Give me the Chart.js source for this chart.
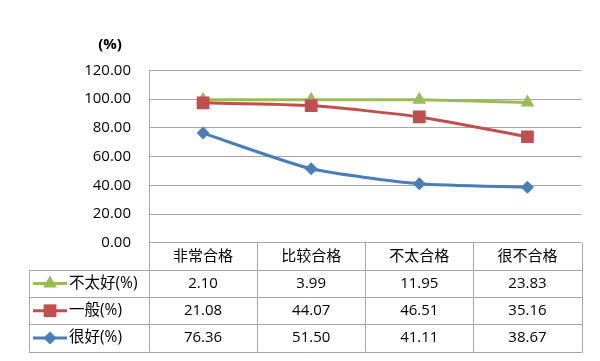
<!DOCTYPE html>
<html>
<head>
<meta charset="utf-8">
<script src="https://cdn.jsdelivr.net/npm/chart.js@4"></script>
<style>
  html, body { margin: 0; padding: 0; background: #fff; }
  #wrap { width: 600px; height: 361px; }
</style>
</head>
<body>
<div id="wrap"><canvas id="chart" width="600" height="361"></canvas></div>
<script>
const categories = ["非常合格", "比较合格", "不太合格", "很不合格"];
const goodVals = [76.36, 51.50, 41.11, 38.67];   // 很好(%)
const midVals = [21.08, 44.07, 46.51, 35.16];    // 一般(%)
const badVals = [2.10, 3.99, 11.95, 23.83];      // 不太好(%)
const seriesNames = ["很好(%)", "一般(%)", "不太好(%)"];
const yTicks = [0, 20, 40, 60, 80, 100, 120];

const FONT = "'Open Sans', 'Noto Sans CJK SC', sans-serif";
const GRID = "#a6a6a6";
const colors = ["#4a7ebb", "#c0504d", "#9bbb59"];
const styles = ["rectRot", "rect", "triangle"];
const radii = [6.5, 9, 8];

// Draws the "(%)" unit label and the data table under the plot
const tablePlugin = {
  id: "dataTable",
  afterDraw(chart) {
    const ctx = chart.ctx;
    const area = chart.chartArea;
    const xs = chart.scales.x;
    const rowH = 27.2;
    const tableLeft = 29;
    const top = area.bottom;

    ctx.save();
    // unit label
    ctx.fillStyle = "#000";
    ctx.font = "bold 15px " + FONT;
    ctx.textAlign = "center";
    ctx.textBaseline = "middle";
    ctx.fillText("(%)", 110, 45);

    // cell boundaries from the category scale
    const half = (xs.getPixelForValue(1) - xs.getPixelForValue(0)) / 2;
    const bounds = [area.left];
    categories.forEach((c, i) => bounds.push(xs.getPixelForValue(i) + half));

    ctx.strokeStyle = GRID;
    ctx.lineWidth = 1;
    ctx.beginPath();
    // verticals
    bounds.forEach((bx) => {
      ctx.moveTo(Math.round(bx) + 0.5, top);
      ctx.lineTo(Math.round(bx) + 0.5, top + rowH * 4);
    });
    ctx.moveTo(tableLeft + 0.5, top + rowH);
    ctx.lineTo(tableLeft + 0.5, top + rowH * 4);
    // horizontals
    for (let r = 1; r <= 4; r++) {
      const y = Math.round(top + rowH * r) + 0.5;
      ctx.moveTo(tableLeft, y);
      ctx.lineTo(bounds[bounds.length - 1] + 1, y);
    }
    ctx.stroke();

    // header
    ctx.fillStyle = "#000";
    ctx.font = "15px " + FONT;
    categories.forEach((c, i) => {
      ctx.fillText(c, xs.getPixelForValue(i), top + rowH / 2);
    });

    // rows: top to bottom is the reverse of dataset order
    const n = chart.data.datasets.length;
    for (let r = 0; r < n; r++) {
      const di = n - 1 - r;
      const ds = chart.data.datasets[di];
      const cy = top + rowH * (r + 1.5);
      // legend sample
      ctx.strokeStyle = colors[di];
      ctx.lineWidth = 3;
      ctx.beginPath();
      ctx.moveTo(33, cy);
      ctx.lineTo(67, cy);
      ctx.stroke();
      ctx.fillStyle = colors[di];
      Chart.helpers.drawPoint(ctx, {
        pointStyle: styles[di], radius: radii[di], rotation: 0, borderWidth: 0
      }, 50, cy);
      ctx.fillStyle = "#000";
      ctx.textAlign = "left";
      ctx.font = "15.5px " + FONT;
      ctx.fillText(seriesNames[di], 69, cy);
      ctx.font = "15px " + FONT;
      ctx.textAlign = "center";
      ds.raw.forEach((v, i) => {
        ctx.fillText(v.toFixed(2), xs.getPixelForValue(i), cy);
      });
    }
    ctx.restore();
  }
};

const rawSeries = [goodVals, midVals, badVals];

new Chart(document.getElementById("chart"), {
  type: "line",
  data: {
    labels: categories,
    datasets: rawSeries.map((vals, i) => ({
      label: seriesNames[i],
      data: vals,
      raw: vals,
      borderColor: colors[i],
      backgroundColor: colors[i],
      borderWidth: 3,
      pointStyle: styles[i],
      pointRadius: radii[i],
      pointBorderWidth: 0,
      tension: 0.2,
      fill: false,
    })),
  },
  options: {
    responsive: false,
    animation: false,
    events: [],
    layout: { padding: { left: 0, right: 18.5, top: 70.5, bottom: 118.3 } },
    plugins: { legend: { display: false }, tooltip: { enabled: false } },
    scales: {
      x: { display: false, offset: true },
      y: {
        stacked: true,
        min: 0,
        max: 120,
        afterBuildTicks(scale) { scale.ticks = yTicks.map((v) => ({ value: v })); },
        afterFit(scale) { scale.width = 149; },
        ticks: {
          padding: 18,
          color: "#000",
          font: { family: FONT, size: 15 },
          callback: (v) => Number(v).toFixed(2),
        },
        grid: { color: GRID, drawTicks: false, lineWidth: 1 },
        border: { display: true, color: GRID, width: 1 },
      },
    },
  },
  plugins: [tablePlugin],
});
</script>
</body>
</html>
